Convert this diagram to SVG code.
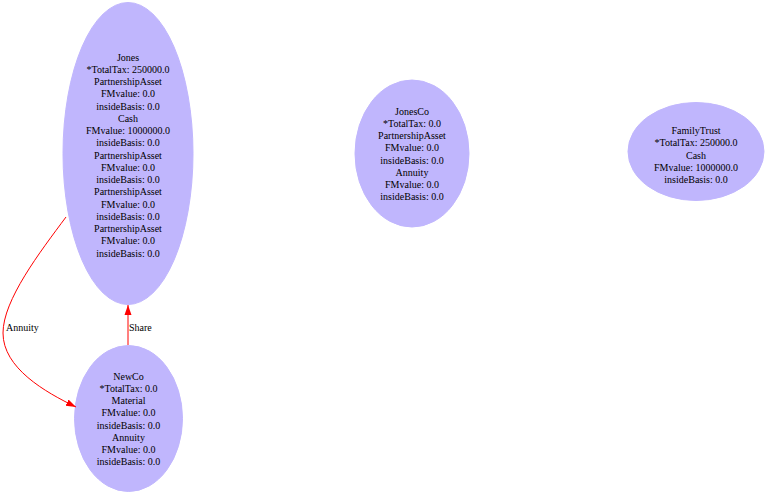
<svg xmlns="http://www.w3.org/2000/svg" width="768" height="496" viewBox="0 0 768 496">
<defs>
<style>
.n{fill:#c0b6fd;stroke:#c0b6fd}
text{font-family:"Liberation Serif","Times New Roman",serif;font-size:10px;text-anchor:middle;fill:#000}
.e{fill:none;stroke:#ff0000;stroke-width:1}
.l{text-anchor:start}
</style>
<marker id="a" viewBox="0 0 10 10" refX="10" refY="5" markerWidth="10" markerHeight="10" markerUnits="userSpaceOnUse" orient="auto">
<path d="M0,1.5 L10,5 L0,8.5 Z" fill="#ff0000"/>
</marker>
</defs>
<rect width="768" height="496" fill="#fff"/>
<g id="Jones">
<ellipse class="n" cx="128" cy="153.5" rx="65" ry="151"/>
<text x="128" y="60.5">Jones</text>
<text x="128" y="72.8">*TotalTax: 250000.0</text>
<text x="128" y="85">PartnershipAsset</text>
<text x="128" y="97.3">FMvalue: 0.0</text>
<text x="128" y="109.5">insideBasis: 0.0</text>
<text x="128" y="121.8">Cash</text>
<text x="128" y="134">FMvalue: 1000000.0</text>
<text x="128" y="146.3">insideBasis: 0.0</text>
<text x="128" y="158.5">PartnershipAsset</text>
<text x="128" y="170.8">FMvalue: 0.0</text>
<text x="128" y="183">insideBasis: 0.0</text>
<text x="128" y="195.3">PartnershipAsset</text>
<text x="128" y="207.5">FMvalue: 0.0</text>
<text x="128" y="219.8">insideBasis: 0.0</text>
<text x="128" y="232">PartnershipAsset</text>
<text x="128" y="244.3">FMvalue: 0.0</text>
<text x="128" y="256.5">insideBasis: 0.0</text>
</g>
<g id="NewCo">
<ellipse class="n" cx="128.5" cy="418.5" rx="54" ry="73"/>
<text x="128.5" y="379.5">NewCo</text>
<text x="128.5" y="391.8">*TotalTax: 0.0</text>
<text x="128.5" y="404">Material</text>
<text x="128.5" y="416.3">FMvalue: 0.0</text>
<text x="128.5" y="428.5">insideBasis: 0.0</text>
<text x="128.5" y="440.8">Annuity</text>
<text x="128.5" y="453">FMvalue: 0.0</text>
<text x="128.5" y="465.3">insideBasis: 0.0</text>
</g>
<g id="JonesCo">
<ellipse class="n" cx="412" cy="153.5" rx="57" ry="73.5"/>
<text x="412" y="114.5">JonesCo</text>
<text x="412" y="126.8">*TotalTax: 0.0</text>
<text x="412" y="139">PartnershipAsset</text>
<text x="412" y="151.3">FMvalue: 0.0</text>
<text x="412" y="163.5">insideBasis: 0.0</text>
<text x="412" y="175.8">Annuity</text>
<text x="412" y="188">FMvalue: 0.0</text>
<text x="412" y="200.3">insideBasis: 0.0</text>
</g>
<g id="FamilyTrust">
<ellipse class="n" cx="696" cy="151.5" rx="68" ry="49"/>
<text x="696" y="134">FamilyTrust</text>
<text x="696" y="146.3">*TotalTax: 250000.0</text>
<text x="696" y="158.5">Cash</text>
<text x="696" y="170.8">FMvalue: 1000000.0</text>
<text x="696" y="183">insideBasis: 0.0</text>
</g>
<g id="edges">
<path class="e" d="M66,217 C40,252 3,300 3,333 C3,368 45,392 76,407" marker-end="url(#a)"/>
<text class="l" x="6" y="330.5">Annuity</text>
<path class="e" d="M128,345 L128,305" marker-end="url(#a)"/>
<text class="l" x="129" y="330.5">Share</text>
</g>
</svg>
